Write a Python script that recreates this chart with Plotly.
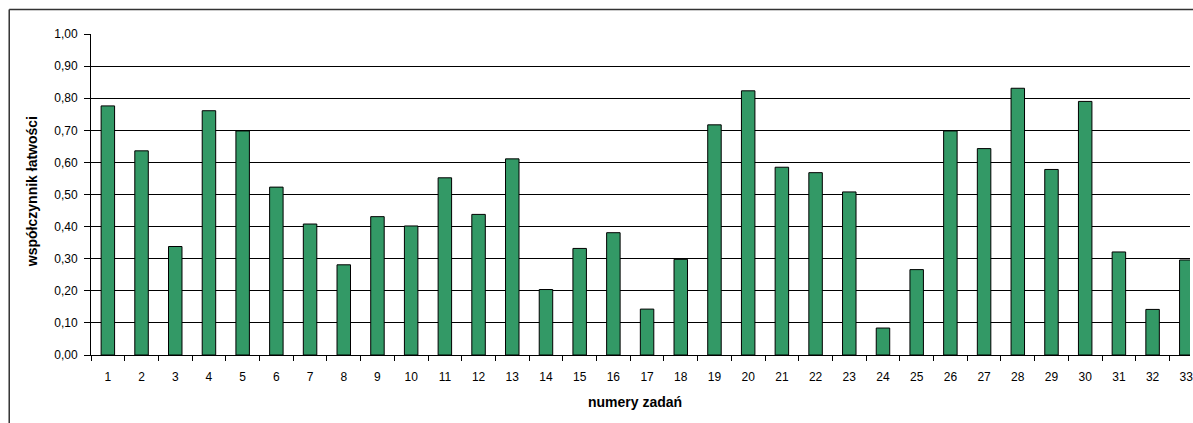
import plotly.graph_objects as go

categories = [str(i) for i in range(1, 34)]
values = [0.776, 0.636, 0.338, 0.761, 0.698, 0.523, 0.408, 0.281, 0.431, 0.402,
          0.552, 0.438, 0.611, 0.204, 0.332, 0.381, 0.143, 0.298, 0.717, 0.823,
          0.585, 0.568, 0.508, 0.084, 0.266, 0.698, 0.643, 0.831, 0.578, 0.790,
          0.321, 0.142, 0.296]
y_ticks = [0.0, 0.1, 0.2, 0.3, 0.4, 0.5, 0.6, 0.7, 0.8, 0.9, 1.0]
x_title = "numery zadań"
y_title = "współczynnik łatwości"

W, H = 1193, 423
L, R, T, B = 91, 0, 34, 68
pw = W - L - R
ph = H - T - B

fig = go.Figure()
fig.add_trace(go.Bar(
    x=categories, y=values, width=0.4,
    marker=dict(color="#339966", line=dict(color="#000000", width=1)),
    showlegend=False,
))

font = dict(family="Liberation Sans, Arial, sans-serif", size=12, color="#000000")

fig.update_layout(
    width=W, height=H, autosize=False,
    margin=dict(l=L, r=R, t=T, b=B, pad=0),
    paper_bgcolor="white", plot_bgcolor="white",
    separators=", ",
    font=font,
    bargap=0.6,
    xaxis=dict(
        type="category", range=[-0.5, 32.11],
        showgrid=False, showline=True, linecolor="#000000", linewidth=1,
        ticks="outside", ticklen=5, tickcolor="#000000", tickson="boundaries",
        tickfont=dict(size=12), ticklabelstandoff=11,
    ),
    yaxis=dict(
        range=[0, 1.0], tickvals=y_ticks, tickformat=".2f",
        showgrid=True, gridcolor="#000000", gridwidth=1,
        showline=True, linecolor="#000000", linewidth=1,
        ticks="outside", ticklen=6, tickcolor="#000000",
        tickfont=dict(size=12), zeroline=False, ticklabelstandoff=4,
    ),
    annotations=[
        dict(text="<b>" + x_title + "</b>", xref="paper", yref="paper",
             x=(636 - L) / pw, y=(H - B - 402) / ph, showarrow=False,
             xanchor="center", yanchor="middle", font=dict(size=14)),
        dict(text="<b>" + y_title + "</b>", xref="paper", yref="paper",
             x=(32 - L) / pw, y=(H - B - 192) / ph, showarrow=False, textangle=-90,
             xanchor="center", yanchor="middle", font=dict(size=14)),
    ],
    shapes=[
        dict(type="line", xref="paper", yref="paper",
             x0=(9 - L) / pw, x1=1.05, y0=(H - B - 9.5) / ph, y1=(H - B - 9.5) / ph,
             line=dict(color="#333333", width=1.5)),
        dict(type="line", xref="paper", yref="paper",
             x0=(9 - L) / pw, x1=(9 - L) / pw, y0=(H - B - 9.5) / ph, y1=-0.5,
             line=dict(color="#333333", width=1.5)),
    ],
)

fig.write_html(
    "out.html",
    config={"displayModeBar": False},
    post_script="document.body.style.margin='0';document.body.style.overflow='hidden';",
)
